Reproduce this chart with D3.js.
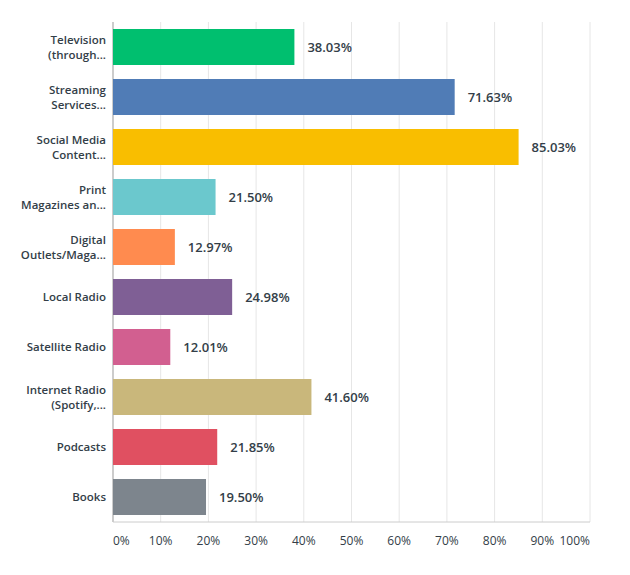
<!DOCTYPE html>
<html><head><meta charset="utf-8">
<script src="https://cdn.jsdelivr.net/npm/d3@7"></script>
<style>body{margin:0;background:#fff}text{font-family:"Open Sans",sans-serif}</style>
</head><body><svg id="c" width="630" height="575"></svg>
<script>
const labels = [["Television","(through..."],["Streaming","Services..."],["Social Media","Content..."],["Print","Magazines an..."],["Digital","Outlets/Maga..."],["Local Radio"],["Satellite Radio"],["Internet Radio","(Spotify,..."],["Podcasts"],["Books"]]
const values = [38.03,71.63,85.03,21.50,12.97,24.98,12.01,41.60,21.85,19.50]
const colors = ["#00bf6f","#507cb6","#f9be00","#6bc8cd","#ff8b4f","#7f5f95","#d25f90","#c9b77b","#e05061","#7d858d"]
const ticks = [0,10,20,30,40,50,60,70,80,90,100]

const svg = d3.select("#c")
const x = d3.scaleLinear().domain([0,100]).range([113,590])
const y = d3.scaleBand().domain(d3.range(values.length)).range([22,522]).paddingInner(0.28).paddingOuter(0.14)

svg.selectAll(".g").data(ticks).enter().append("line")
  .attr("x1",d=>x(d)).attr("x2",d=>x(d)).attr("y1",22).attr("y2",522)
  .attr("stroke",d=>d==0?"#999":"#e6e6e6")
svg.append("line").attr("x1",113).attr("x2",590).attr("y1",522).attr("y2",522).attr("stroke","#ccc")

svg.selectAll(".b").data(values).enter().append("rect")
  .attr("x",x(0)).attr("y",(d,i)=>y(i)).attr("height",y.bandwidth())
  .attr("width",d=>x(d)-x(0)).attr("fill",(d,i)=>colors[i])

svg.selectAll(".v").data(values).enter().append("text")
  .attr("x",d=>x(d)+13).attr("y",(d,i)=>y(i)+y.bandwidth()/2+4.5)
  .attr("font-size",13).attr("font-weight",600).attr("fill","#333e48")
  .text(d=>d.toFixed(2)+"%")

labels.forEach((l,i)=>{
  const t = svg.append("text").attr("text-anchor","end").attr("font-size",11.5)
    .attr("font-weight",600).attr("fill","#333e48")
  const cy = y(i)+y.bandwidth()/2
  l.forEach((s,j)=>t.append("tspan").attr("x",106)
    .attr("y",cy+4+(j-(l.length-1)/2)*15).text(s))
})

svg.selectAll(".t").data(ticks).enter().append("text")
  .attr("x",d=>x(d)).attr("y",545).attr("font-size",12).attr("fill","#333e48")
  .attr("text-anchor",d=>d==0?"start":d==100?"end":"middle")
  .text(d=>d+"%")
</script></body></html>
